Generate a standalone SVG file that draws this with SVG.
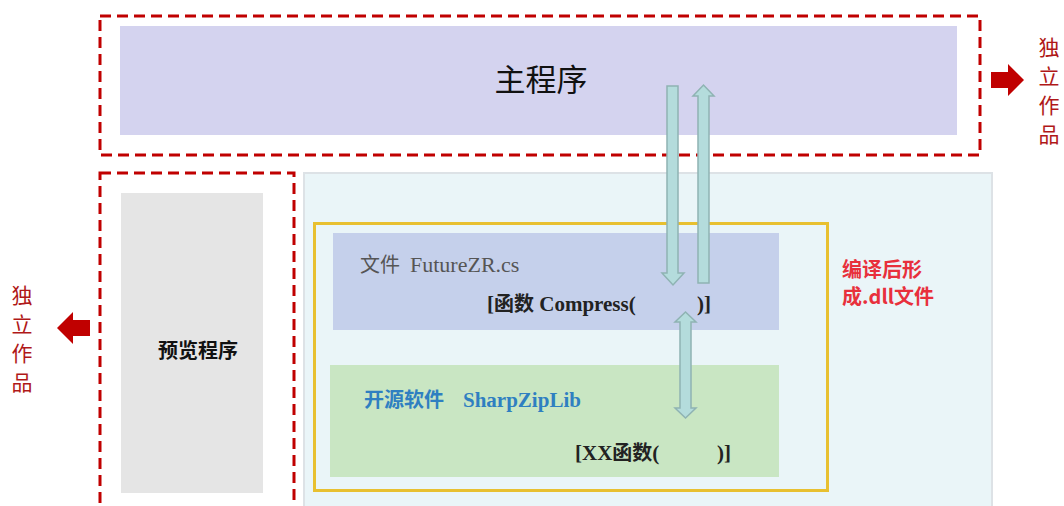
<svg xmlns="http://www.w3.org/2000/svg" width="1064" height="506" viewBox="0 0 1064 506">
<defs>
<style>
.dash{fill:none;stroke:#c00000;stroke-width:3;stroke-dasharray:11 6}
.red{fill:#c00000}
.vt{font-family:"Noto Sans CJK SC",sans-serif;font-size:21px;fill:#b01818}
.arr{fill:#b4dcdc;stroke:#8fb3b3;stroke-width:1.5}
.serif{font-family:"Liberation Serif","Noto Sans CJK SC",serif}
.cjk{font-family:"Noto Sans CJK SC",sans-serif}
</style>
</defs>
<rect width="1064" height="506" fill="#ffffff"/>
<g id="panel">
<rect x="304" y="173" width="688" height="340" fill="#eaf5f8" stroke="#dde2e6" stroke-width="2"/>
</g>
<g id="main-frame">
<rect class="dash" x="100" y="16" width="880" height="139"/>
</g>
<g id="main">
<rect x="120" y="26" width="837" height="109" fill="#d4d3ef"/>
<text x="541" y="91" text-anchor="middle" class="cjk" font-size="31" fill="#111">主程序</text>
</g>
<g id="right-label">
<polygon class="red" points="991,72 1008,72 1008,64 1024,80 1008,96 1008,88 991,88"/>
<text class="vt" x="1049" y="55" text-anchor="middle">独</text>
<text class="vt" x="1049" y="84" text-anchor="middle">立</text>
<text class="vt" x="1049" y="113" text-anchor="middle">作</text>
<text class="vt" x="1049" y="142" text-anchor="middle">品</text>
</g>
<g id="preview-frame">
<rect class="dash" x="100" y="173" width="194" height="345"/>
</g>
<g id="preview">
<rect x="121" y="193" width="142" height="300" fill="#e5e5e5"/>
<text x="198" y="358" text-anchor="middle" class="cjk" font-weight="bold" font-size="20" fill="#111">预览程序</text>
</g>
<g id="left-label">
<polygon class="red" points="90,320 73,320 73,312 57,328 73,344 73,336 90,336"/>
<text class="vt" x="22" y="303" text-anchor="middle">独</text>
<text class="vt" x="22" y="332" text-anchor="middle">立</text>
<text class="vt" x="22" y="361" text-anchor="middle">作</text>
<text class="vt" x="22" y="390" text-anchor="middle">品</text>
</g>
<g id="dll-frame">
<rect x="314.5" y="223.5" width="513" height="267" fill="none" stroke="#e8c030" stroke-width="3"/>
<text x="842" y="277" class="cjk" font-weight="bold" font-size="20" fill="#e8303c">编译后形</text>
<text x="842" y="304" class="cjk" font-weight="bold" font-size="20" fill="#e8303c">成.dll文件</text>
</g>
<g id="file">
<rect x="333" y="233" width="446" height="97" fill="#c5d0eb"/>
<text class="cjk" x="360" y="272" font-size="20" fill="#555">文件</text>
<text class="serif" x="410" y="272" font-size="22" fill="#555">FutureZR.cs</text>
<text class="serif" x="487" y="311" font-size="21" font-weight="bold" fill="#222">[<tspan class="cjk" font-size="20">函数</tspan> Compress(</text>
<text class="serif" x="697" y="311" font-size="21" font-weight="bold" fill="#222">)]</text>
</g>
<g id="lib">
<rect x="330" y="365" width="449" height="112" fill="#c9e6c3"/>
<text class="cjk" x="364" y="407" font-size="20" font-weight="bold" fill="#2f7fc1">开源软件</text>
<text class="serif" x="463" y="407" font-size="21" font-weight="bold" fill="#2f7fc1">SharpZipLib</text>
<text class="serif" x="575" y="460" font-size="21" font-weight="bold" fill="#222">[XX<tspan class="cjk" font-size="20">函数</tspan>(</text>
<text class="serif" x="717" y="460" font-size="21" font-weight="bold" fill="#222">)]</text>
</g>
<g id="connectors">
<polygon class="arr" points="667,86 678,86 678,273 684,273 673,285 662,273 667,273"/>
<polygon class="arr" points="698,283 709,283 709,96 714,96 703.5,85 693,96 698,96"/>
<polygon class="arr" points="680,322 675,322 685.5,312 696,322 691,322 691,408 696,408 685.5,418 675,408 680,408"/>
</g>
</svg>
